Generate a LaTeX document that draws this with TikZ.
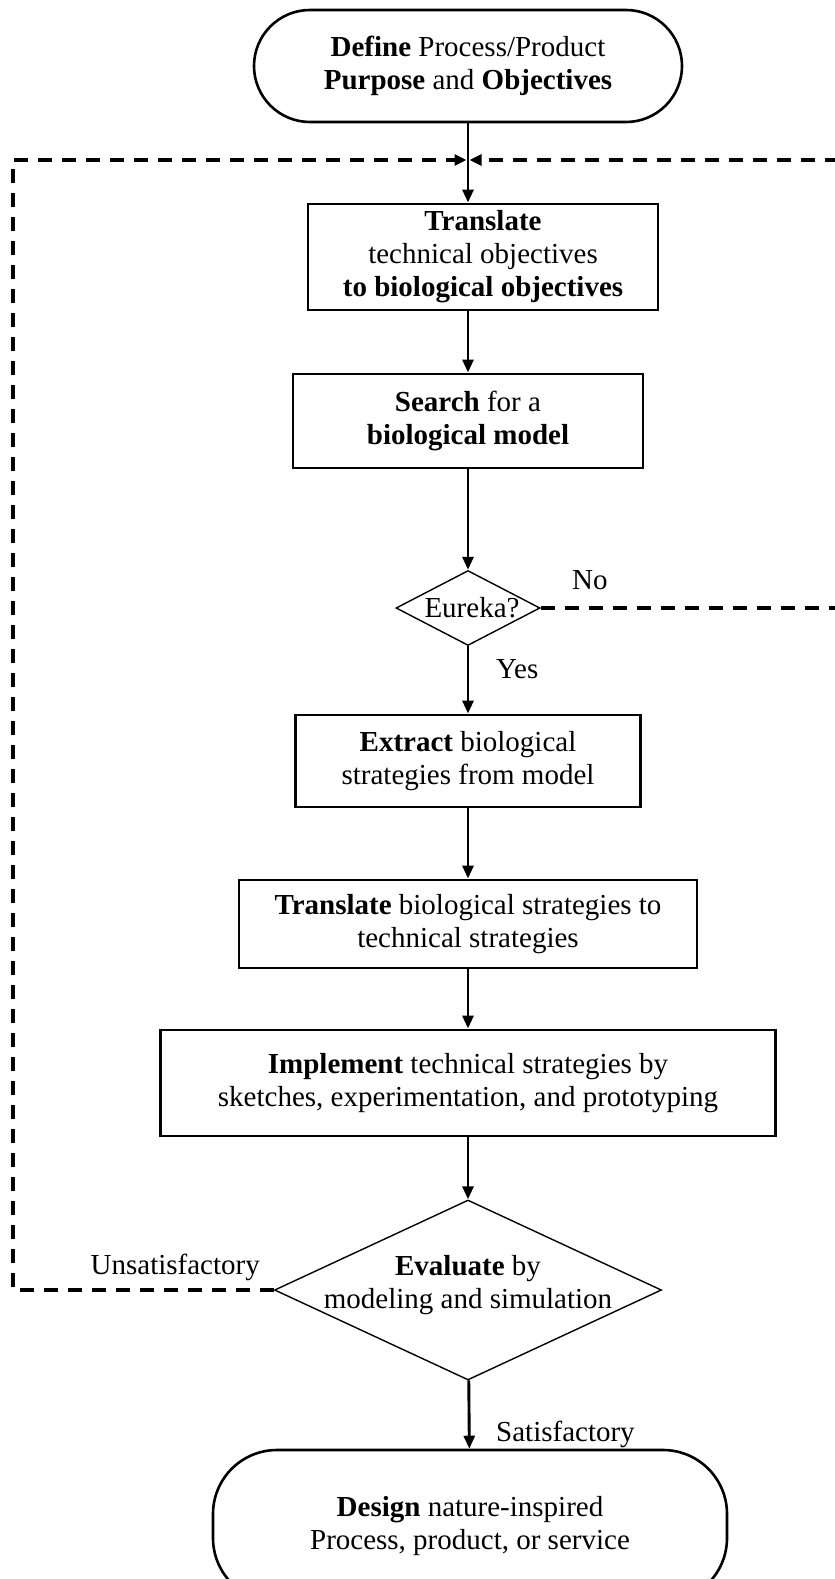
\documentclass[tikz,border=0pt]{standalone}
\usepackage{fontspec}
\setmainfont{Liberation Serif}
\usetikzlibrary{shapes.geometric,arrows.meta}

\tikzset{
  process/.style={draw, line width=2.9bp, align=center, inner sep=0pt},
  terminal/.style={draw, line width=2.6bp, align=center, inner sep=0pt, rounded corners=#1},
  decision/.style={draw, diamond, line width=1.4bp, inner sep=0pt},
  flow/.style={-{Triangle[length=13bp,width=11bp]}, line width=2.9bp},
  feedback/.style={-{Triangle[length=12bp,width=11bp]}, line width=3.8bp, dash pattern=on 14bp off 10bp},
  note/.style={inner sep=2bp}
}

\begin{document}
\begin{tikzpicture}[x=1bp, y=-1bp, font=\fontsize{29bp}{33bp}\selectfont]
        \useasboundingbox (0,0) rectangle (834,1579);

        % start and end
        \node[terminal=56bp, minimum width=428bp, minimum height=112bp] (define) at (468,66) {\textbf{Define} Process/Product\\\textbf{Purpose} and \textbf{Objectives}};
        \node[terminal=64bp, minimum width=514bp, minimum height=152bp] (design) at (470,1526) {\textbf{Design} nature-inspired\\Process, product, or service};

        % steps
        \node[process, minimum width=350bp, minimum height=106bp] (translate) at (483,257) {\textbf{Translate}\\technical objectives\\\textbf{to biological objectives}};
        \node[process, minimum width=350bp, minimum height=94bp] (search) at (468,421) {\textbf{Search} for a\\\textbf{biological model}};
        \node[process, minimum width=345bp, minimum height=92bp] (extract) at (468,761) {\textbf{Extract} biological\\strategies from model};
        \node[process, minimum width=458bp, minimum height=88bp] (transfer) at (468,924) {\textbf{Translate} biological strategies to\\technical strategies};
        \node[process, minimum width=615bp, minimum height=106bp] (implement) at (468,1083) {\textbf{Implement} technical strategies by\\sketches, experimentation, and prototyping};

        % decisions
        \node[decision, minimum width=144bp, minimum height=75bp] (eureka) at (468,608) {};
        \node[note] (eurekatext) at (472,608) {Eureka?};
        \node[decision, minimum width=387bp, minimum height=180bp] (evaluate) at (468,1290) {};
        \node[note, align=center] (evaluatetext) at (468,1285) {\textbf{Evaluate} by\\modeling and simulation};

        % main flow
        \coordinate (join) at (468,160);
        \draw[flow] (define.south) -- (define.south |- translate.north);
        \draw[flow] (search.north |- translate.south) -- (search.north);
        \draw[flow] (search) -- (eureka);
        \draw[flow] (eureka) -- (extract);
        \draw[flow] (extract) -- (transfer);
        \draw[flow] (transfer) -- (implement);
        \draw[flow] (implement) -- (evaluate);
        \draw[flow] (evaluate) -- (design);

        % loops back
        \coordinate (leftside) at (13,160);
        \coordinate (rightside) at (850,160);
        \draw[feedback, shorten >=1.5bp] (evaluate.west) -| (leftside) -- (join);
        \draw[feedback, shorten >=1.5bp] (eureka.east) -| (rightside) -- (join);

        % labels
        \node[note, anchor=south east] (unsat) at (262,1283) {Unsatisfactory};
        \node[note, anchor=south west] (no) at (570,592) {No};
        \node[note, anchor=north west] (yes) at (494,657) {Yes};
        \node[note, anchor=south west] (sat) at (494,1450) {Satisfactory};
\end{tikzpicture}
\end{document}
